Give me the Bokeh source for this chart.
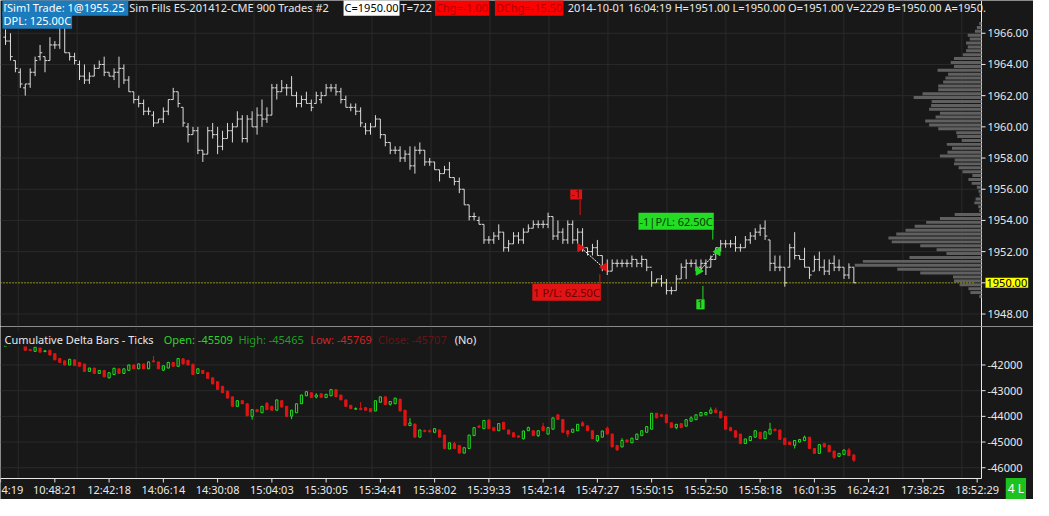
import numpy as np
from bokeh.plotting import figure
from bokeh.layouts import column
from bokeh.models import Range1d, Label, ColumnDataSource
from bokeh.transform import dodge
from bokeh.core.properties import value
from bokeh.embed import file_html
from bokeh.resources import INLINE

# ---------------- data ----------------
price_open = [
 1965.75, 1965.5, 1964.25, 1963.5, 1962.5, 1962.75, 1963.5, 1964.5, 1964.5, 1964.25,
 1965.25, 1965.25, 1966.5, 1964.75, 1964.5, 1964.0, 1963.25, 1963.0, 1963.25, 1963.75,
 1964.0, 1963.5, 1963.25, 1963.5, 1963.75, 1963.0, 1962.25, 1961.75, 1961.5, 1961.0,
 1960.75, 1960.25, 1960.5, 1961.0, 1961.75, 1962.25, 1961.25, 1960.0, 1959.5, 1959.75,
 1958.5, 1958.25, 1959.75, 1959.5, 1958.75, 1959.25, 1959.75, 1960.0, 1960.5, 1959.25,
 1960.5, 1960.0, 1960.75, 1960.5, 1960.75, 1962.5, 1962.25, 1962.5, 1962.5, 1962.0,
 1961.5, 1961.75, 1961.5, 1961.5, 1961.75, 1962.0, 1962.5, 1962.5, 1962.25, 1961.75,
 1961.25, 1961.25, 1961.0, 1960.0, 1959.75, 1960.0, 1960.5, 1959.5, 1959.0, 1958.5,
 1958.5, 1958.0, 1958.25, 1957.5, 1958.5, 1958.5, 1957.75, 1957.75, 1957.25, 1957.0,
 1957.25, 1956.75, 1956.5, 1956.0, 1955.0, 1954.25, 1954.0, 1953.75, 1952.75, 1952.75,
 1953.0, 1953.25, 1952.25, 1952.5, 1953.0, 1952.75, 1953.25, 1953.5, 1953.75, 1953.75,
 1953.75, 1954.25, 1953.0, 1953.25, 1952.75, 1953.75, 1952.75, 1953.25, 1952.25, 1952.0,
 1952.25, 1951.75, 1951.0, 1950.75, 1951.25, 1951.25, 1951.25, 1951.25, 1951.5, 1951.25,
 1951.5, 1951.0, 1950.0, 1950.25, 1950.0, 1949.5, 1949.5, 1950.25, 1951.0, 1951.25,
 1951.25, 1951.0, 1951.25, 1951.0, 1951.5, 1952.25, 1952.5, 1952.5, 1952.5, 1952.25,
 1952.25, 1952.75, 1953.0, 1953.25, 1953.5, 1952.75, 1951.25, 1951.0, 1951.0, 1951.0,
 1952.25, 1951.75, 1951.5, 1951.0, 1950.75, 1951.5, 1951.0, 1950.75, 1951.25, 1951.0,
 1951.0, 1950.5, 1951.0]
price_high = [
 1966.25, 1966.0, 1964.25, 1963.75, 1962.75, 1963.75, 1964.5, 1965.25, 1964.5, 1965.75,
 1965.5, 1967.0, 1966.75, 1964.75, 1964.75, 1964.25, 1964.0, 1963.5, 1964.0, 1964.25,
 1964.5, 1963.5, 1963.75, 1964.5, 1964.0, 1963.25, 1962.25, 1962.0, 1961.75, 1961.25,
 1961.0, 1960.5, 1961.25, 1961.75, 1962.5, 1962.25, 1961.25, 1960.25, 1960.0, 1960.0,
 1958.5, 1960.0, 1960.25, 1960.0, 1959.75, 1960.25, 1960.25, 1961.0, 1960.75, 1960.75,
 1961.0, 1961.25, 1961.75, 1961.25, 1962.75, 1962.75, 1963.0, 1962.75, 1963.25, 1962.25,
 1962.0, 1962.25, 1961.75, 1962.25, 1962.25, 1962.75, 1962.75, 1962.75, 1962.5, 1962.0,
 1961.5, 1961.5, 1961.25, 1960.25, 1960.25, 1960.75, 1960.5, 1959.5, 1959.0, 1958.75,
 1958.75, 1958.5, 1958.75, 1958.75, 1959.0, 1958.5, 1958.0, 1957.75, 1957.25, 1957.5,
 1957.75, 1956.75, 1956.75, 1956.0, 1955.0, 1954.5, 1954.25, 1953.75, 1953.0, 1953.25,
 1953.75, 1953.25, 1952.75, 1953.25, 1953.25, 1953.5, 1953.75, 1954.0, 1954.0, 1954.0,
 1954.5, 1954.25, 1954.0, 1953.5, 1954.0, 1954.0, 1953.5, 1953.5, 1952.25, 1952.5,
 1952.75, 1951.75, 1951.5, 1951.5, 1951.5, 1951.5, 1951.5, 1951.75, 1951.5, 1951.75,
 1951.5, 1950.75, 1950.25, 1950.5, 1950.25, 1949.75, 1950.5, 1951.25, 1951.5, 1951.5,
 1951.5, 1951.5, 1951.5, 1951.75, 1952.25, 1952.75, 1952.75, 1952.75, 1953.0, 1952.5,
 1953.0, 1953.25, 1953.5, 1953.75, 1954.0, 1952.75, 1951.75, 1951.75, 1951.0, 1952.5,
 1953.25, 1951.75, 1952.25, 1951.0, 1951.75, 1952.0, 1951.5, 1951.5, 1951.75, 1951.5,
 1951.0, 1951.25, 1951.0]
price_low = [
 1965.25, 1964.25, 1963.5, 1962.5, 1962.0, 1962.5, 1963.25, 1964.25, 1963.5, 1964.25,
 1965.0, 1965.0, 1964.75, 1964.25, 1964.0, 1963.0, 1962.75, 1962.75, 1963.25, 1963.75,
 1963.25, 1963.25, 1963.0, 1962.5, 1962.75, 1962.25, 1961.5, 1961.25, 1960.75, 1960.75,
 1960.0, 1960.25, 1960.25, 1960.75, 1961.75, 1961.25, 1960.0, 1959.0, 1959.5, 1958.25,
 1957.75, 1958.25, 1959.25, 1958.25, 1958.5, 1959.25, 1959.0, 1960.0, 1959.0, 1959.0,
 1960.0, 1959.5, 1960.0, 1960.25, 1960.75, 1961.75, 1962.25, 1962.0, 1962.0, 1961.25,
 1961.25, 1961.5, 1961.0, 1961.5, 1961.5, 1962.0, 1962.25, 1962.0, 1961.5, 1961.25,
 1961.0, 1960.75, 1960.0, 1959.5, 1959.5, 1960.0, 1959.25, 1958.75, 1958.25, 1958.25,
 1957.75, 1957.75, 1957.25, 1957.0, 1958.25, 1957.5, 1957.5, 1957.25, 1956.5, 1957.0,
 1956.75, 1956.25, 1955.75, 1955.0, 1954.0, 1954.0, 1953.75, 1952.5, 1952.5, 1952.5,
 1952.75, 1952.0, 1952.0, 1952.5, 1952.5, 1952.5, 1953.25, 1953.5, 1953.5, 1953.5,
 1953.5, 1952.75, 1952.75, 1952.5, 1952.5, 1952.5, 1952.5, 1952.0, 1951.75, 1951.75,
 1951.75, 1950.75, 1950.5, 1950.75, 1951.0, 1951.0, 1951.0, 1951.0, 1951.0, 1951.0,
 1950.75, 1949.75, 1950.0, 1949.75, 1949.25, 1949.25, 1949.5, 1950.25, 1950.25, 1951.0,
 1950.75, 1950.75, 1950.5, 1951.0, 1951.5, 1952.0, 1952.25, 1952.25, 1952.0, 1952.0,
 1952.25, 1952.5, 1952.75, 1953.0, 1952.75, 1950.75, 1950.75, 1950.75, 1949.75, 1951.0,
 1951.5, 1951.5, 1951.0, 1950.25, 1950.75, 1950.75, 1950.5, 1950.5, 1950.75, 1950.75,
 1950.25, 1950.25, 1950.0]
price_close = [
 1965.5, 1964.5, 1963.75, 1962.75, 1962.75, 1963.5, 1964.25, 1964.75, 1964.25, 1965.25,
 1965.25, 1966.5, 1964.75, 1964.5, 1964.25, 1963.25, 1963.0, 1963.25, 1963.75, 1964.0,
 1963.5, 1963.25, 1963.5, 1963.75, 1963.0, 1962.25, 1961.75, 1961.5, 1961.0, 1961.0,
 1960.25, 1960.5, 1961.0, 1961.75, 1962.25, 1961.5, 1960.25, 1959.5, 1959.75, 1958.5,
 1958.25, 1959.75, 1959.5, 1958.75, 1959.25, 1959.75, 1960.0, 1960.5, 1959.25, 1960.5,
 1960.0, 1960.75, 1960.5, 1960.75, 1962.5, 1962.25, 1962.5, 1962.5, 1962.0, 1961.5,
 1961.75, 1961.5, 1961.25, 1962.0, 1962.0, 1962.5, 1962.5, 1962.25, 1961.75, 1961.25,
 1961.25, 1961.0, 1960.25, 1959.75, 1960.0, 1960.5, 1959.5, 1959.0, 1958.5, 1958.5,
 1958.0, 1958.25, 1957.5, 1958.5, 1958.5, 1957.75, 1957.75, 1957.25, 1957.0, 1957.25,
 1956.75, 1956.5, 1956.0, 1955.0, 1954.25, 1954.25, 1953.75, 1952.75, 1952.75, 1953.0,
 1953.25, 1952.25, 1952.5, 1953.0, 1952.75, 1953.25, 1953.5, 1953.75, 1953.75, 1953.75,
 1954.25, 1953.0, 1953.25, 1952.75, 1953.75, 1952.75, 1953.25, 1952.25, 1952.0, 1952.25,
 1951.75, 1951.0, 1950.75, 1951.25, 1951.25, 1951.25, 1951.25, 1951.5, 1951.25, 1951.5,
 1951.0, 1950.0, 1950.25, 1950.0, 1949.5, 1949.5, 1950.25, 1951.0, 1951.25, 1951.25,
 1951.0, 1951.25, 1951.0, 1951.5, 1952.25, 1952.5, 1952.5, 1952.5, 1952.25, 1952.25,
 1952.75, 1953.0, 1953.25, 1953.5, 1953.0, 1951.25, 1951.0, 1951.0, 1950.0, 1952.25,
 1951.75, 1951.5, 1951.0, 1950.5, 1951.5, 1951.0, 1950.75, 1951.25, 1951.0, 1951.0,
 1950.5, 1951.0, 1950.0]

delta_open = [
 -41280, -41250, -41100, -41150, -41250, -41400, -41470, -41340, -41480, -41430,
 -41560, -41750, -41840, -42000, -41800, -41900, -41960, -42250, -42120, -42330,
 -42210, -42500, -42370, -42150, -42330, -42210, -42000, -42150, -41960, -42150,
 -41840, -41880, -42200, -42120, -41900, -42050, -41760, -41820, -41970, -42330,
 -42210, -42300, -42500, -42650, -42830, -43020, -43240, -43610, -43390, -43510,
 -44000, -43740, -43860, -43490, -43610, -43760, -43390, -43610, -43990, -43860,
 -43510, -43200, -43080, -43250, -43120, -43270, -43200, -42960, -43170, -43360,
 -43570, -43720, -43690, -43660, -43700, -43790, -43450, -43240, -43530, -43510,
 -43330, -43760, -44360, -44300, -44810, -44550, -44560, -44620, -44530, -44730,
 -45270, -45060, -45130, -45430, -45250, -44750, -44380, -44480, -44140, -44440,
 -44560, -44230, -44530, -44640, -44760, -44870, -44560, -44560, -44750, -44400,
 -44690, -44500, -43940, -44120, -44560, -44620, -44560, -44250, -44370, -44560,
 -44950, -44810, -44460, -44690, -45130, -45190, -44920, -45030, -44900, -44750,
 -44620, -44500, -43880, -43940, -43940, -44250, -44440, -44280, -44380, -44190,
 -44130, -43980, -43940, -43880, -43750, -43810, -44000, -44440, -44560, -44690,
 -45060, -44940, -44810, -44620, -44870, -44690, -44500, -44530, -44850, -45000,
 -45130, -45000, -44940, -44810, -45250, -45440, -45060, -45130, -45350, -45560,
 -45480, -45310, -45509]
delta_high = [
 -41230, -41050, -41000, -41120, -41240, -41380, -41290, -41330, -41420, -41400,
 -41550, -41740, -41830, -41760, -41790, -41880, -41950, -42110, -42110, -42200,
 -42200, -42290, -42110, -42140, -42140, -41990, -41990, -41940, -41950, -41870,
 -41650, -41870, -42010, -41880, -41880, -41730, -41740, -41800, -41960, -42140,
 -42200, -42290, -42490, -42640, -42820, -43010, -43230, -43380, -43380, -43500,
 -43730, -43730, -43600, -43440, -43600, -43350, -43380, -43600, -43750, -43500,
 -43160, -43030, -43070, -43100, -43110, -43130, -42950, -42950, -43160, -43350,
 -43560, -43650, -43450, -43650, -43690, -43380, -43230, -43230, -43410, -43280,
 -43320, -43750, -44070, -44290, -44520, -44510, -44510, -44470, -44520, -44720,
 -45020, -44990, -45120, -45210, -44720, -44430, -44330, -44150, -44130, -44430,
 -44270, -44220, -44520, -44620, -44740, -44560, -44400, -44540, -44550, -44250,
 -44410, -44050, -43930, -44110, -44550, -44490, -44300, -44190, -44360, -44550,
 -44740, -44560, -44400, -44680, -45120, -44850, -44900, -44840, -44680, -44550,
 -44390, -43870, -43870, -43900, -43930, -44240, -44300, -44270, -44120, -44000,
 -43930, -43840, -43840, -43650, -43660, -43800, -43990, -44400, -44550, -44680,
 -44870, -44770, -44550, -44610, -44590, -44250, -44480, -44520, -44840, -44990,
 -44930, -44890, -44750, -44800, -45240, -45090, -45030, -45120, -45340, -45430,
 -45300, -45230, -45465]
delta_low = [
 -41290, -41260, -41200, -41210, -41440, -41450, -41480, -41510, -41500, -41630,
 -41810, -41910, -42010, -42010, -42030, -42060, -42260, -42260, -42340, -42340,
 -42480, -42520, -42380, -42340, -42340, -42220, -42160, -42160, -42160, -42160,
 -41890, -42160, -42240, -42130, -42060, -42060, -41970, -42010, -42380, -42350,
 -42340, -42530, -42750, -42960, -43090, -43300, -43620, -43620, -43520, -43990,
 -44130, -43830, -43870, -43750, -43770, -43770, -43650, -44020, -44110, -43870,
 -43520, -43210, -43280, -43300, -43270, -43280, -43210, -43250, -43370, -43620,
 -43710, -43740, -43750, -43770, -43830, -43800, -43460, -43550, -43580, -43520,
 -43800, -44370, -44370, -44820, -44820, -44620, -44630, -44640, -44820, -45260,
 -45280, -45260, -45440, -45440, -45260, -44760, -44460, -44490, -44490, -44570,
 -44570, -44510, -44700, -44810, -44820, -44900, -44570, -44760, -44800, -44570,
 -44700, -44510, -44130, -44630, -44810, -44630, -44570, -44380, -44570, -44880,
 -45000, -44820, -44700, -45200, -45320, -45200, -45010, -45040, -44910, -44760,
 -44630, -44510, -44070, -44010, -44260, -44450, -44500, -44450, -44390, -44200,
 -44140, -43990, -43950, -43890, -43870, -44070, -44510, -44570, -44820, -45070,
 -45070, -44950, -44820, -44880, -44880, -44700, -44570, -44910, -45110, -45110,
 -45250, -45010, -44950, -45260, -45450, -45450, -45200, -45390, -45650, -45570,
 -45490, -45540, -45769]
delta_close = [
 -41250, -41100, -41150, -41200, -41430, -41440, -41310, -41500, -41450, -41610,
 -41800, -41900, -42000, -41780, -42020, -42050, -42250, -42120, -42330, -42210,
 -42460, -42300, -42130, -42330, -42150, -42000, -42150, -41960, -42150, -41880,
 -41880, -42150, -42030, -41900, -42050, -41750, -41960, -42000, -42370, -42150,
 -42330, -42520, -42740, -42950, -43080, -43290, -43610, -43390, -43510, -43980,
 -43740, -43820, -43610, -43740, -43760, -43360, -43640, -44010, -43760, -43510,
 -43170, -43040, -43270, -43170, -43260, -43140, -42960, -43240, -43360, -43610,
 -43700, -43700, -43740, -43760, -43820, -43390, -43240, -43540, -43420, -43290,
 -43790, -44360, -44260, -44810, -44530, -44590, -44600, -44480, -44810, -45250,
 -45030, -45250, -45430, -45220, -44730, -44440, -44420, -44160, -44480, -44560,
 -44280, -44500, -44690, -44800, -44810, -44570, -44440, -44750, -44560, -44560,
 -44440, -44060, -44120, -44620, -44690, -44500, -44310, -44370, -44560, -44870,
 -44750, -44570, -44690, -45190, -45310, -44940, -45000, -44850, -44690, -44560,
 -44400, -43880, -44060, -44000, -44250, -44440, -44310, -44440, -44130, -44060,
 -43940, -43850, -43850, -43750, -43860, -44060, -44500, -44560, -44810, -45060,
 -44880, -44780, -44560, -44870, -44600, -44500, -44560, -44900, -45100, -45100,
 -44940, -44900, -44810, -45250, -45440, -45100, -45190, -45380, -45600, -45440,
 -45310, -45530, -45707]

# volume profile, top level 1966.50 downward in 0.25 steps
vp_volume = [23, 47, 67, 140, 120, 157, 140, 157, 190, 280,
             313, 280, 447, 340, 367, 390, 440, 440, 600, 690,
             507, 513, 533, 423, 467, 573, 533, 440, 257, 247,
             200, 353, 300, 347, 423, 273, 280, 233, 193, 93,
             133, 100, 47, 30, 20, 60, 73, 33, 23, 273,
             423, 563, 680, 773, 867, 947, 913, 623, 457, 357,
             733, 1207, 1290, 857, 623, 290, 280, 223, 133, 113, 23]
vp_top_level = 1966.5
tick_size = 0.25
vp_price = [vp_top_level - tick_size * k for k in range(len(vp_volume))]

price_ticks = [1948, 1950, 1952, 1954, 1956, 1958, 1960, 1962, 1964, 1966]
delta_ticks = [-46000, -45000, -44000, -43000, -42000]
# first label is only partly on screen in the source chart ("4:19")
time_labels = ["4:19", "10:48:21", "12:42:18", "14:06:14", "14:30:08", "15:04:03",
               "15:30:05", "15:34:41", "15:38:02", "15:39:33", "15:42:14", "15:47:27",
               "15:50:15", "15:52:50", "15:58:18", "16:01:35", "16:24:21", "17:38:25",
               "18:52:29"]
time_label_bars = [-1 + 11 * k for k in range(len(time_labels))]

# trades: short 117->121, long 141->144
trade_entry_bar = [117, 141]
trade_entry_price = [1952.25, 1950.75]
trade_exit_bar = [121, 144]
trade_exit_price = [1951.0, 1952.0]
trade_pl = ["62.50C", "62.50C"]

# ---------------- style ----------------
BG = "#181818"
GRID = "#2a2a2a"
FG = "#e8e8e8"
BAR = "#dcdcdc"
GREEN = "#22dd22"
RED = "#e01414"
BLUE = "#1c7bbd"
FONT = "Noto Sans"
FS = "11px"

n = len(price_close)
bars = list(range(n))

FW = 981            # width of the bar area (to the value-scale line)
TOTAL_W = 1033      # whole canvas width
TOP_H = 326
BOT_H = 152
STRIP_H = 21        # time-scale strip under the delta panel
XR0, XR1 = -1.02, 197.88
DPX = (XR1 - XR0) / FW
XE = XR0 + DPX * TOTAL_W
TY0, TY1 = 1947.2, 1968.1
BY0, BY1 = -46419.0, -40502.0
BPX = (BY1 - BY0) / BOT_H
BYS = BY0 - BPX * STRIP_H


def bx(px):
    return XR0 + px * (XR1 - XR0) / 998.0


def ty(py):
    return TY1 - py * (TY1 - TY0) / 338.0


def by(py):
    return BY1 - (py - 338.0) * (BY1 - BY0) / 158.0


vgrid = [bx(18 + 60 * k) for k in range(17)]
xr = Range1d(XR0, XE)
HAS_PAD = "padding" in Label.properties()


def make_fig(h, yr):
    f = figure(frame_width=TOTAL_W, frame_height=h, x_range=xr, y_range=yr,
               output_backend="svg", toolbar_location=None, x_axis_location=None,
               y_axis_location=None, min_border_left=0, min_border_right=0,
               min_border_top=0, min_border_bottom=0)
    f.background_fill_color = BG
    f.border_fill_color = BG
    f.outline_line_color = None
    f.xgrid.visible = False
    f.ygrid.visible = False
    return f


def value_scale(fig, ticks, labels, y_lo, y_hi):
    """grid, scale line, ticks and labels on the strip right of the bar area"""
    m = len(ticks)
    src = ColumnDataSource(dict(y=ticks, lab=labels, g0=[XR0] * m, g1=[XR1] * m,
                                t0=[XR1] * m, t1=[XR1 + 4 * DPX] * m, tx=[XR1 + 6 * DPX] * m))
    k = len(vgrid)
    fig.segment(x0=vgrid, y0=[y_lo] * k, x1=vgrid, y1=[y_hi] * k, line_color=GRID, level="underlay")
    fig.segment(x0="g0", y0="y", x1="g1", y1="y", source=src, line_color=GRID, level="underlay")
    fig.segment(x0="t0", y0="y", x1="t1", y1="y", source=src, line_color=FG)
    fig.text(x="tx", y="y", text="lab", source=src, text_color=FG, text_font=value(FONT),
             text_font_size=FS, text_baseline="middle", text_align="left")
    fig.segment(x0=[XR1], y0=[y_lo], x1=[XR1], y1=[y_hi], line_color=FG, line_width=1)


def tag(fig, x, y, text, color=FG, bg=None, align="left", size=FS, pad=1):
    kw = dict(x=x, y=y, text=text, text_color=color, text_font=FONT, text_font_size=size,
              text_align=align, text_baseline="middle")
    if bg is not None:
        kw["background_fill_color"] = bg
        if HAS_PAD:
            kw["padding"] = pad
    fig.add_layout(Label(**kw))


# ---------------- price panel ----------------
top = make_fig(TOP_H, Range1d(TY0, TY1))
last = price_close[-1]
value_scale(top, price_ticks, ["" if t == last else f"{t:.2f}" for t in price_ticks], TY0, TY1)

vp_full = 9980.0
top.extra_x_ranges = {"vp": Range1d(start=vp_full, end=-vp_full * (TOTAL_W - FW) / FW)}
vp_src = ColumnDataSource(dict(price=vp_price, vol=vp_volume))
top.hbar(y=dodge("price", tick_size / 2), left=0, right="vol", height=0.19, x_range_name="vp",
         source=vp_src, fill_color="#606060", line_color=None)

psrc = ColumnDataSource(dict(x=bars, o=price_open, h=price_high, l=price_low, c=price_close))
top.segment(x0="x", y0="l", x1="x", y1="h", source=psrc, line_color=BAR, line_width=1)
top.segment(x0=dodge("x", -0.45), y0="o", x1="x", y1="o", source=psrc, line_color=BAR, line_width=1)
top.segment(x0="x", y0="c", x1=dodge("x", 0.45), y1="c", source=psrc, line_color=BAR, line_width=1)

# last-price line and its marker on the price scale
top.segment(x0=[XR0], y0=[last], x1=[bx(990)], y1=[last], line_color="#e4e400",
            line_dash="1 2", line_width=1)
tag(top, XR1 + 4 * DPX, last, f"{last:.2f}", color="black", bg="#ffff00")

# trades
tcol = [RED, GREEN]
for k in range(len(trade_entry_bar)):
    eb, ep, xb, xp = trade_entry_bar[k], trade_entry_price[k], trade_exit_bar[k], trade_exit_price[k]
    c = tcol[k]
    top.line(x=[eb - 0.3, xb + 0.1], y=[ep, xp], line_color="white", line_dash="2 1", line_width=1)
    top.scatter(x=[eb - 0.5], y=[ep], marker="triangle", size=8, angle=-np.pi / 2,
                fill_color=c, line_color=c)
    top.scatter(x=[xb + 0.4], y=[xp], marker="triangle", size=8, angle=np.pi / 2,
                fill_color=c, line_color=c)

# short entry "-1" above, exit "1 P/L" below
e0, x0 = trade_entry_bar[0], trade_exit_bar[0]
top.segment(x0=[e0 - 0.5], y0=[trade_entry_price[0] + 2.1], x1=[e0 - 0.5], y1=[trade_entry_price[0] + 3.05],
            line_color=RED, line_width=1)
tag(top, e0 - 1.3, trade_entry_price[0] + 3.42, "-1", color="#700000", bg=RED, align="center")
top.segment(x0=[x0 - 0.5], y0=[trade_exit_price[0] - 0.45], x1=[x0 - 0.5], y1=[trade_exit_price[0] - 1.26],
            line_color=RED, line_width=1)
tag(top, x0 - 0.3, trade_exit_price[0] - 1.6, "1 P/L: " + trade_pl[0], color="#700000", bg=RED,
    align="right")
# long entry "1" below, exit "-1|P/L" above
e1, x1 = trade_entry_bar[1], trade_exit_bar[1]
top.segment(x0=[e1 + 0.4], y0=[trade_entry_price[1] - 0.95], x1=[e1 + 0.4], y1=[trade_entry_price[1] - 1.82],
            line_color=GREEN, line_width=1)
tag(top, e1 - 0.1, trade_entry_price[1] - 2.13, "1", color="#0b3b0b", bg=GREEN, align="center")
top.segment(x0=[x1 - 0.6], y0=[trade_exit_price[1] + 0.77], x1=[x1 - 0.6], y1=[trade_exit_price[1] + 1.57],
            line_color=GREEN, line_width=1)
tag(top, x1 - 0.4, trade_exit_price[1] + 1.94, "-1|P/L: " + trade_pl[1], color="#0b3b0b", bg=GREEN,
    align="right")

# header
y1h, y2h = ty(7), ty(20.5)
tag(top, bx(2), y1h, "[Sim]  Trade: 1@1955.25", color="white", bg=BLUE)
tag(top, bx(131), y1h, "Sim Fills  ES-201412-CME  900 Trades  #2")
tag(top, bx(349), y1h, f"C={last:.2f}", color="black", bg="white")
tag(top, bx(407), y1h, "T=722")
tag(top, bx(442), y1h, "Chg=-1.00", color="#b00000", bg="#ff0000")
tag(top, bx(503), y1h, "DChg=-15.50", color="#b00000", bg="#ff0000")
tag(top, bx(577), y1h, f"2014-10-01 16:04:19 H={price_high[-1]:.2f} L={price_low[-1]:.2f} "
                       f"O={price_open[-1]:.2f} V=2229 B=1950.00 A=1950.")
tag(top, bx(2), y2h, "DPL: 125.00C", color="white", bg=BLUE)

# ---------------- delta panel (with the time scale strip) ----------------
bot = make_fig(BOT_H + STRIP_H, Range1d(BYS, BY1))
value_scale(bot, delta_ticks, [f"{t:d}" for t in delta_ticks], BY0, BY1)

# time scale
mt = len(time_label_bars)
tsrc = ColumnDataSource(dict(x=time_label_bars, y0=[BY0] * mt, y1=[BY0 - 4 * BPX] * mt))
lsrc = ColumnDataSource(dict(x=[XR0 + DPX] + time_label_bars[1:], lab=time_labels,
                             al=["left"] + ["center"] * (mt - 1), yt=[BY0 - 11 * BPX] * mt))
bot.segment(x0=[XR0], y0=[BY0], x1=[XR1], y1=[BY0], line_color=FG, line_width=1)
bot.segment(x0="x", y0="y0", x1="x", y1="y1", source=tsrc, line_color=FG)
bot.text(x="x", y="yt", text="lab", source=lsrc, text_color=FG, text_font=value(FONT),
         text_font_size=FS, text_baseline="middle", text_align="al")

d_o = np.array(delta_open, dtype=float)
d_h = np.array(delta_high, dtype=float)
d_l = np.array(delta_low, dtype=float)
d_c = np.array(delta_close, dtype=float)
bx_arr = np.array(bars)
up = d_c >= d_o
dn = ~up
src_up = ColumnDataSource(dict(x=bx_arr[up], top=d_c[up], bottom=d_o[up], h=d_h[up], l=d_l[up]))
src_dn = ColumnDataSource(dict(x=bx_arr[dn], top=d_o[dn], bottom=d_c[dn], h=d_h[dn], l=d_l[dn]))
bot.segment(x0="x", y0="l", x1="x", y1="h", source=src_dn, line_color=RED)
bot.vbar(x="x", width=0.45, top="top", bottom="bottom", source=src_dn, fill_color=RED, line_color=RED)
bot.segment(x0="x", y0="l", x1="x", y1="h", source=src_up, line_color=GREEN)
bot.vbar(x="x", width=0.45, top="top", bottom="bottom", source=src_up, fill_color=BG, line_color=GREEN)

yl = by(351)
tag(bot, bx(4), yl, "Cumulative Delta Bars - Ticks", bg=BG, pad=0)
tag(bot, bx(166), yl, f"Open: {delta_open[-1]}", color="#2bd42b")
tag(bot, bx(242), yl, f"High: {delta_high[-1]}", color="#1f9f1f")
tag(bot, bx(315), yl, f"Low: {delta_low[-1]}", color="#d42222")
tag(bot, bx(384), yl, f"Close: {delta_close[-1]}", color="#641616")
tag(bot, bx(462), yl, "(No)")

tag(bot, bx(1033), BY0 - 10 * BPX, "4 L", color="white", bg="#1ec21e", align="center",
    size="12px", pad=2)

layout = column(top, bot)
open("out.html", "w").write(file_html(layout, INLINE))
